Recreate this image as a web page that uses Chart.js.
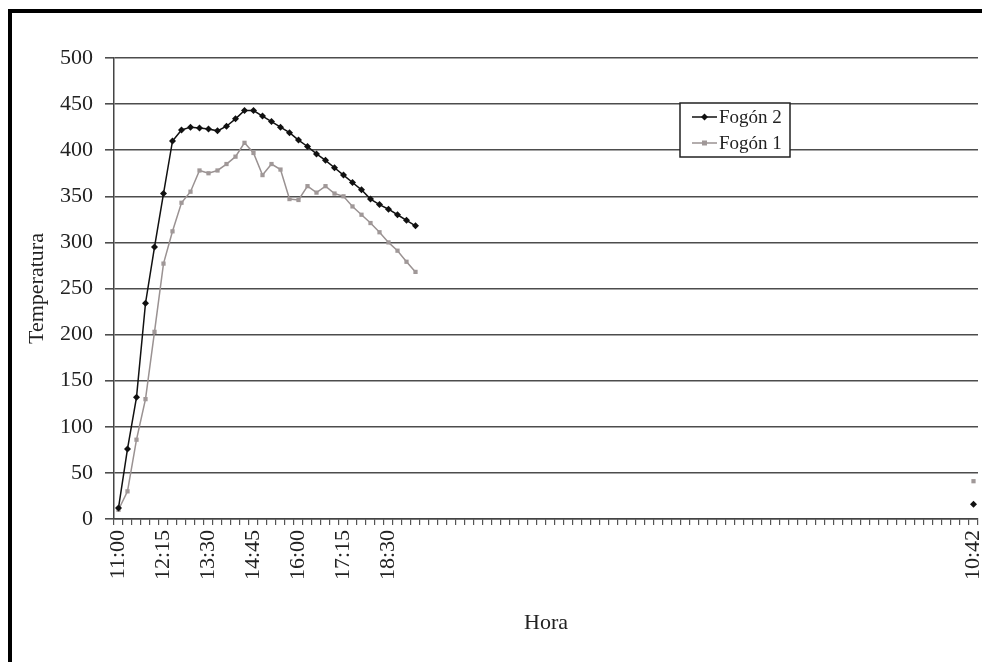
<!DOCTYPE html>
<html>
<head>
<meta charset="utf-8">
<script src="https://cdn.jsdelivr.net/npm/chart.js@4/dist/chart.umd.min.js"></script>
<style>
  html, body { margin: 0; padding: 0; background: #fff; }
  #wrap { position: relative; width: 982px; height: 662px; }
  #marco { position: absolute; left: 8px; top: 9px; width: 990px; height: 700px;
           border-left: 4px solid #000; border-top: 4px solid #000; pointer-events: none; }
</style>
</head>
<body>
<div id="wrap">
  <canvas id="grafico" width="982" height="662"></canvas>
  <div id="marco"></div>
</div>
<script>
// horas con medición (cada 15 min) y la lectura final del día siguiente
const horasMedidas = ['11:00','11:15','11:30','11:45','12:00','12:15','12:30','12:45','13:00','13:15',
  '13:30','13:45','14:00','14:15','14:30','14:45','15:00','15:15','15:30','15:45',
  '16:00','16:15','16:30','16:45','17:00','17:15','17:30','17:45','18:00','18:15',
  '18:30','18:45','19:00','19:15']
const huecos = 61
const horaFinal = '10:42'

const fogon2 = [12, 76, 132, 234, 295, 353, 410, 422, 425, 424, 423, 421, 426, 434, 443, 443,
  437, 431, 425, 419, 411, 404, 396, 389, 381, 373, 365, 357, 347, 341, 336, 330, 324, 318]
const fogon1 = [10, 30, 86, 130, 203, 277, 312, 343, 355, 378, 375, 378, 385, 393, 408, 397,
  373, 385, 379, 347, 346, 361, 354, 361, 353, 350, 339, 330, 321, 311, 300, 291, 279, 268]
const fogon2Final = 16
const fogon1Final = 41

const yTicks = [0, 500, 50] // min, max, paso

const horas = horasMedidas.concat(new Array(huecos).fill(''), [horaFinal])
const serie = (vals, fin) => vals.concat(new Array(huecos).fill(null), [fin])

const fuente = "'Liberation Serif', 'Times New Roman', serif"

const leyendaPlugin = {
  id: 'leyendaPlugin',
  afterDraw(chart) {
    const ctx = chart.ctx
    const x = 680, y = 103, w = 110, h = 54
    ctx.save()
    ctx.fillStyle = '#fff'
    ctx.fillRect(x, y, w, h)
    ctx.strokeStyle = '#222'
    ctx.lineWidth = 1.5
    ctx.strokeRect(x, y, w, h)
    chart.data.datasets.forEach((ds, i) => {
      const cy = y + 14 + i * 26
      ctx.strokeStyle = ds.borderColor
      ctx.lineWidth = 1.5
      ctx.beginPath()
      ctx.moveTo(x + 12, cy)
      ctx.lineTo(x + 37, cy)
      ctx.stroke()
      ctx.fillStyle = ds.backgroundColor
      ctx.beginPath()
      if (ds.pointStyle === 'rectRot') {
        ctx.moveTo(x + 24.5, cy - 3.5); ctx.lineTo(x + 28, cy); ctx.lineTo(x + 24.5, cy + 3.5); ctx.lineTo(x + 21, cy)
      } else {
        ctx.rect(x + 22, cy - 2.5, 5, 5)
      }
      ctx.fill()
      ctx.fillStyle = '#222'
      ctx.font = '19px ' + fuente
      ctx.textBaseline = 'middle'
      ctx.fillText(ds.label, x + 39, cy + 1)
    })
    ctx.restore()
  }
}

const ctx = document.getElementById('grafico')
const myChart = new Chart(ctx, {
  type: 'line',
  data: {
    labels: horas,
    datasets: [{
      label: 'Fogón 2',
      data: serie(fogon2, fogon2Final),
      borderColor: '#111',
      backgroundColor: '#111',
      borderWidth: 1.5,
      pointStyle: 'rectRot',
      pointRadius: 3.5,
      pointBorderWidth: 0,
      tension: 0,
      spanGaps: false
    }, {
      label: 'Fogón 1',
      data: serie(fogon1, fogon1Final),
      borderColor: '#9a9292',
      backgroundColor: '#a09898',
      borderWidth: 1.5,
      pointStyle: 'rect',
      pointRadius: 3,
      pointBorderWidth: 0,
      tension: 0,
      spanGaps: false
    }]
  },
  options: {
    responsive: false,
    animation: false,
    layout: { padding: { left: 0, right: 2, top: 58, bottom: 0 } },
    plugins: { legend: { display: false }, tooltip: { enabled: false } },
    scales: {
      x: {
        offset: true,
        grid: { offset: true, drawOnChartArea: false, drawTicks: true, tickLength: 6, color: '#555', lineWidth: 1.2 },
        border: { color: '#444', width: 1.5 },
        ticks: {
          autoSkip: false, minRotation: 90, maxRotation: 90, padding: 5,
          color: '#222', font: { family: fuente, size: 22 },
          callback: function (val, i) { return i % 5 === 0 ? this.getLabelForValue(val) : '' }
        },
        title: { display: true, text: 'Hora', color: '#222', font: { family: fuente, size: 22 }, padding: { top: 26, bottom: 26 } },
        afterFit: (scale) => { scale.height = 143; scale.paddingLeft = 0; scale.paddingRight = 0 }
      },
      y: {
        min: yTicks[0],
        max: yTicks[1],
        ticks: { stepSize: yTicks[2], padding: 12, color: '#222', font: { family: fuente, size: 22 } },
        grid: { color: '#4d4d4d', lineWidth: 1.6, tickLength: 9 },
        border: { color: '#444', width: 1.5 },
        title: { display: true, text: 'Temperatura', color: '#222', font: { family: fuente, size: 22 }, padding: { top: 24, bottom: 24 } },
        afterFit: (scale) => { scale.width = 114 }
      }
    }
  },
  plugins: [leyendaPlugin]
})
</script>
</body>
</html>
